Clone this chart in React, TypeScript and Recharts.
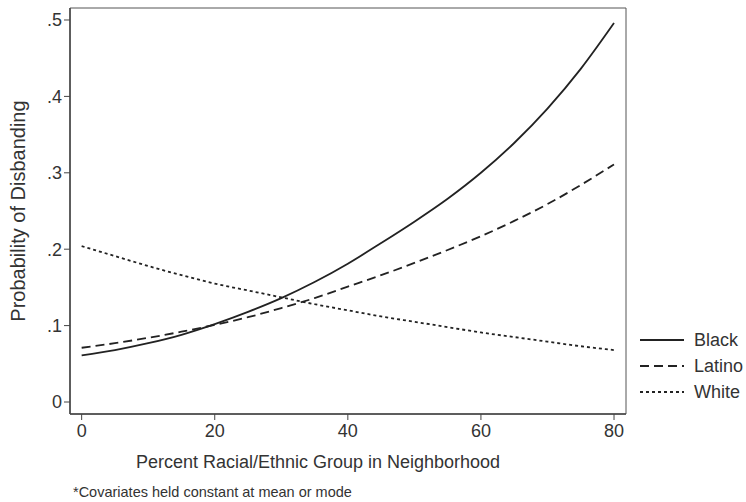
import { LineChart, Line, XAxis, YAxis, ReferenceArea, Label } from "recharts";

const pct = [0, 5, 10, 15, 20, 25, 30, 35, 40, 45, 50, 55, 60, 65, 70, 75, 80];

const black = [
  0.061, 0.068, 0.077, 0.088, 0.102, 0.118, 0.136, 0.157, 0.181, 0.208, 0.236,
  0.266, 0.3, 0.339, 0.384, 0.436, 0.496,
];

const latino = [
  0.071, 0.077, 0.084, 0.092, 0.101, 0.111, 0.123, 0.136, 0.151, 0.166, 0.182,
  0.199, 0.217, 0.237, 0.259, 0.284, 0.311,
];

const white = [
  0.204, 0.191, 0.178, 0.166, 0.155, 0.146, 0.137, 0.128, 0.12, 0.112, 0.105,
  0.098, 0.091, 0.085, 0.079, 0.073, 0.068,
];

const xTicks = [0, 20, 40, 60, 80];
const yTicks = [0, 0.1, 0.2, 0.3, 0.4, 0.5];

const xDomain: [number, number] = [-1.75, 81.8];
const yDomain: [number, number] = [-0.0157, 0.5157];

const data = pct.map((p, i) => ({
  pct: p,
  Black: black[i],
  Latino: latino[i],
  White: white[i],
}));

const FONT = "'Liberation Sans', Arial, sans-serif";
const INK = "#222";
const TEXT = "#333";

const series = [
  { key: "Black", dash: undefined as string | undefined },
  { key: "Latino", dash: "9 5" },
  { key: "White", dash: "3 3" },
];

const fmtY = (v: number) => (v === 0 ? "0" : "." + Math.round(v * 10));

export default function App() {
  return (
    <div
      style={{
        position: "absolute",
        left: 0,
        top: 0,
        width: 746,
        height: 502,
        background: "#fff",
        fontFamily: FONT,
      }}
    >
      <LineChart
        width={746}
        height={502}
        data={data}
        margin={{ top: 8, right: 120, bottom: 0, left: 0 }}
      >
        <XAxis
          dataKey="pct"
          type="number"
          domain={xDomain}
          ticks={xTicks}
          allowDataOverflow
          height={88}
          tickSize={6}
          tickMargin={4}
          axisLine={{ stroke: "#444", strokeWidth: 1.5 }}
          tickLine={{ stroke: "#444" }}
          tick={{ fill: TEXT, fontSize: 18, fontFamily: FONT }}
        >
          <Label
            value="Percent Racial/Ethnic Group in Neighborhood"
            position="insideTop"
            offset={41}
            dx={-30}
            style={{ fill: TEXT, fontSize: 18, fontFamily: FONT }}
          />
        </XAxis>
        <YAxis
          type="number"
          domain={yDomain}
          ticks={yTicks}
          allowDataOverflow
          width={70}
          tickSize={6}
          tickMargin={2}
          tickFormatter={fmtY}
          axisLine={{ stroke: "#444", strokeWidth: 1.5 }}
          tickLine={{ stroke: "#444" }}
          tick={{ fill: TEXT, fontSize: 18, fontFamily: FONT }}
        >
          <Label
            value="Probability of Disbanding"
            angle={-90}
            position="insideLeft"
            offset={18}
            style={{
              fill: TEXT,
              fontSize: 20,
              fontFamily: FONT,
              textAnchor: "middle",
            }}
          />
        </YAxis>
        <ReferenceArea
          x1={xDomain[0]}
          x2={xDomain[1]}
          y1={yDomain[0]}
          y2={yDomain[1]}
          fill="none"
          stroke="#555"
          strokeWidth={1}
          ifOverflow="visible"
        />
        {series.map((s) => (
          <Line
            key={s.key}
            dataKey={s.key}
            type="monotone"
            stroke={INK}
            strokeWidth={1.8}
            strokeDasharray={s.dash}
            dot={false}
            activeDot={false}
            isAnimationActive={false}
          />
        ))}
      </LineChart>
      <div
        style={{
          position: "absolute",
          left: 640,
          top: 327,
          fontSize: 18,
          color: TEXT,
          fontFamily: FONT,
        }}
      >
        {series.map((s) => (
          <div
            key={s.key}
            style={{ display: "flex", alignItems: "center", height: 26 }}
          >
            <svg width={54} height={10} style={{ flexShrink: 0 }}>
              <line
                x1={0}
                x2={44}
                y1={5}
                y2={5}
                stroke={INK}
                strokeWidth={1.8}
                strokeDasharray={s.dash}
              />
            </svg>
            <span>{s.key}</span>
          </div>
        ))}
      </div>
      <div
        style={{
          position: "absolute",
          left: 73,
          top: 485,
          fontSize: 14.5,
          lineHeight: 1,
          color: TEXT,
          fontFamily: FONT,
          whiteSpace: "nowrap",
        }}
      >
        *Covariates held constant at mean or mode
      </div>
    </div>
  );
}
